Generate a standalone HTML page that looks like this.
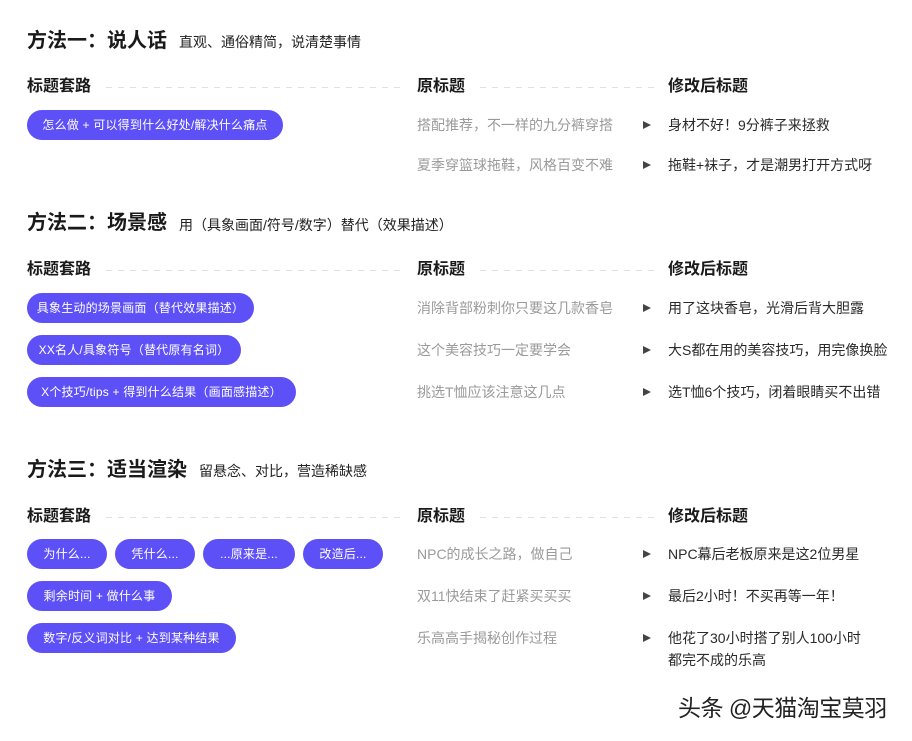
<!DOCTYPE html>
<html><head><meta charset="utf-8"><style>
*{margin:0;padding:0;box-sizing:border-box}
body{width:912px;height:741px;background:#fff;position:relative;overflow:hidden;font-family:"Liberation Sans","Noto Sans CJK SC",sans-serif;color:#222}
.a{position:absolute;white-space:nowrap}
.t{font-size:20px;font-weight:bold;line-height:24px;color:#1a1a1a}
.s{font-size:14px;line-height:20px;color:#222}
.h{font-size:16px;font-weight:bold;line-height:22px;color:#1a1a1a}
.d{position:absolute;height:1px;background:repeating-linear-gradient(90deg,#e0e0e0 0 6px,transparent 6px 12px)}
.p{position:absolute;height:30px;border-radius:15px;background:#5e50f7;color:#fff;font-size:12px;line-height:30px;text-align:center;white-space:nowrap;letter-spacing:0.2px}
.o{font-size:14px;line-height:20px;color:#9a9a9a}
.n{font-size:14px;line-height:20px;color:#2a2a2a}
.r{position:absolute;width:0;height:0;border-left:8px solid #444;border-top:4px solid transparent;border-bottom:4px solid transparent}
</style></head><body>

<div class="a t" style="left:27px;top:29px">方法一：说人话</div>
<div class="a s" style="left:179px;top:32px">直观、通俗精简，说清楚事情</div>
<div class="a h" style="left:27px;top:76px">标题套路</div>
<div class="d" style="left:106px;width:295px;top:87px"></div>
<div class="a h" style="left:417px;top:76px">原标题</div>
<div class="d" style="left:480px;width:175px;top:87px"></div>
<div class="a h" style="left:668px;top:76px">修改后标题</div>
<div class="p" style="left:27px;top:110px;width:256px">怎么做 + 可以得到什么好处/解决什么痛点</div>
<div class="a o" style="left:417px;top:115px">搭配推荐，不一样的九分裤穿搭</div>
<div class="r" style="left:643px;top:121px"></div>
<div class="a n" style="left:668px;top:115px">身材不好！9分裤子来拯救</div>
<div class="a o" style="left:417px;top:155px">夏季穿篮球拖鞋，风格百变不难</div>
<div class="r" style="left:643px;top:161px"></div>
<div class="a n" style="left:668px;top:155px">拖鞋+袜子，才是潮男打开方式呀</div>

<div class="a t" style="left:27px;top:211px">方法二：场景感</div>
<div class="a s" style="left:179px;top:215px">用（具象画面/符号/数字）替代（效果描述）</div>
<div class="a h" style="left:27px;top:259px">标题套路</div>
<div class="d" style="left:106px;width:295px;top:270px"></div>
<div class="a h" style="left:417px;top:259px">原标题</div>
<div class="d" style="left:480px;width:175px;top:270px"></div>
<div class="a h" style="left:668px;top:259px">修改后标题</div>
<div class="p" style="left:27px;top:293px;width:227px">具象生动的场景画面（替代效果描述）</div>
<div class="p" style="left:27px;top:335px;width:214px">XX名人/具象符号（替代原有名词）</div>
<div class="p" style="left:27px;top:377px;width:269px">X个技巧/tips + 得到什么结果（画面感描述）</div>
<div class="a o" style="left:417px;top:298px">消除背部粉刺你只要这几款香皂</div>
<div class="r" style="left:643px;top:304px"></div>
<div class="a n" style="left:668px;top:298px">用了这块香皂，光滑后背大胆露</div>
<div class="a o" style="left:417px;top:340px">这个美容技巧一定要学会</div>
<div class="r" style="left:643px;top:346px"></div>
<div class="a n" style="left:668px;top:340px">大S都在用的美容技巧，用完像换脸</div>
<div class="a o" style="left:417px;top:382px">挑选T恤应该注意这几点</div>
<div class="r" style="left:643px;top:388px"></div>
<div class="a n" style="left:668px;top:382px">选T恤6个技巧，闭着眼睛买不出错</div>

<div class="a t" style="left:27px;top:458px">方法三：适当渲染</div>
<div class="a s" style="left:199px;top:461px">留悬念、对比，营造稀缺感</div>
<div class="a h" style="left:27px;top:506px">标题套路</div>
<div class="d" style="left:106px;width:295px;top:517px"></div>
<div class="a h" style="left:417px;top:506px">原标题</div>
<div class="d" style="left:480px;width:175px;top:517px"></div>
<div class="a h" style="left:668px;top:506px">修改后标题</div>
<div class="p" style="left:27px;top:539px;width:80px">为什么...</div>
<div class="p" style="left:115px;top:539px;width:80px">凭什么...</div>
<div class="p" style="left:203px;top:539px;width:92px">...原来是...</div>
<div class="p" style="left:303px;top:539px;width:80px">改造后...</div>
<div class="p" style="left:27px;top:581px;width:145px">剩余时间 + 做什么事</div>
<div class="p" style="left:27px;top:623px;width:209px">数字/反义词对比 + 达到某种结果</div>
<div class="a o" style="left:417px;top:544px">NPC的成长之路，做自己</div>
<div class="r" style="left:643px;top:550px"></div>
<div class="a n" style="left:668px;top:544px">NPC幕后老板原来是这2位男星</div>
<div class="a o" style="left:417px;top:586px">双11快结束了赶紧买买买</div>
<div class="r" style="left:643px;top:592px"></div>
<div class="a n" style="left:668px;top:586px">最后2小时！不买再等一年！</div>
<div class="a o" style="left:417px;top:628px">乐高高手揭秘创作过程</div>
<div class="r" style="left:643px;top:634px"></div>
<div class="a n" style="left:668px;top:628px">他花了30小时搭了别人100小时</div>
<div class="a n" style="left:668px;top:650px">都完不成的乐高</div>

<div class="a" style="left:678px;top:694px;font-size:23px;line-height:28px;color:#222;letter-spacing:-0.5px">头条 @天猫淘宝莫羽</div>
</body></html>
